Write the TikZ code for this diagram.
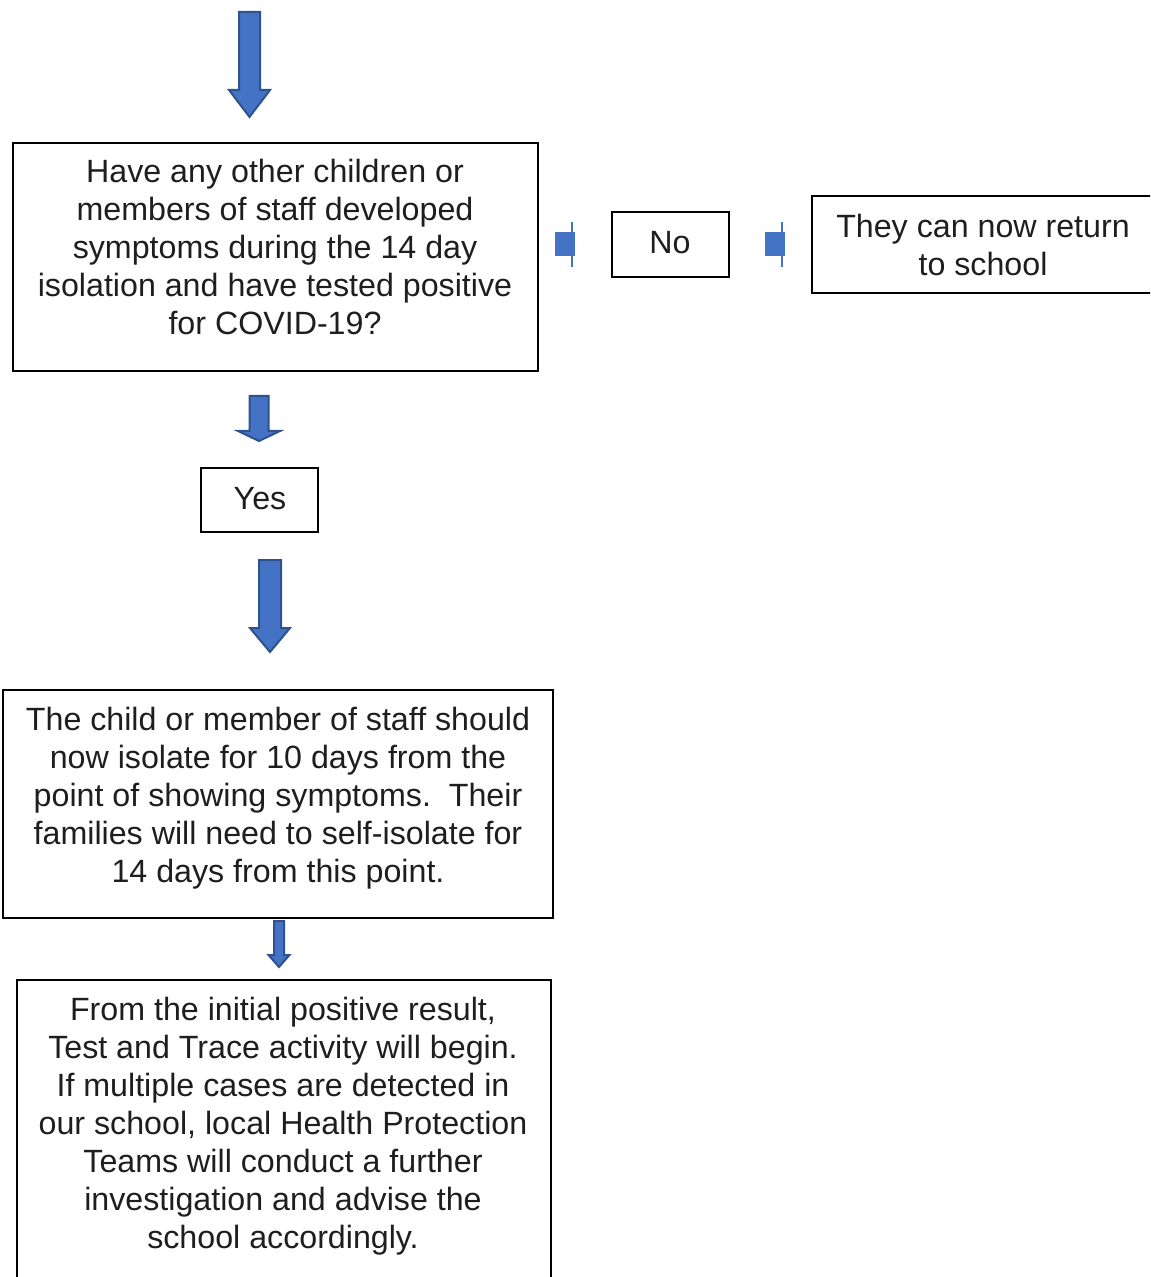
\documentclass[tikz,border=0pt]{standalone}
\usepackage{fontspec}
\setmainfont{Liberation Sans}
\usetikzlibrary{fit}
\definecolor{afill}{RGB}{68,114,196}
\definecolor{adraw}{RGB}{47,82,143}
\definecolor{txtc}{RGB}{30,30,30}
\tikzset{
  box/.style={draw=black, line width=1pt, inner sep=0pt},
  txt/.style={text=txtc, font=\fontsize{16.1pt}{19pt}\selectfont, align=center, inner sep=0pt, anchor=north},
  blockarrow/.style={fill=afill, draw=adraw, line width=1pt, line join=miter},
  sidemark/.style={fill=afill, draw=none},
  sideline/.style={draw=afill, line width=1pt},
}
\newcommand\dnarrow[6]{%
  \draw[blockarrow] ({#1-#2},#4) -- ({#1+#2},#4) -- ({#1+#2},#5) -- ({#1+#3},#5)
    -- (#1,#6) -- ({#1-#3},#5) -- ({#1-#2},#5) -- cycle;}
\begin{document}
\begin{tikzpicture}[x=0.5pt,y=-0.5pt]
\useasboundingbox (0,0) rectangle (1150,1277);
\clip (0,0) rectangle (1150,1277);
% boxes
\node[box, fit={(13,143) (538,371)}] (q) {};
\node[box, fit={(612,212) (729,277)}] (no) {};
\node[box, fit={(812,196) (1165,293)}] (ret) {};
\node[box, fit={(201,468) (318,532)}] (yes) {};
\node[box, fit={(3,690) (553,918)}] (iso) {};
\node[box, fit={(17,980) (551,1295)}] (tt) {};
% texts
\node[txt] (tq) at (275,159) {Have any other children or\\members of staff developed\\symptoms during the 14 day\\isolation and have tested positive\\for COVID-19?};
\node[txt] (tno) at (670,231) {No};
\node[txt] (tret) at (983,214) {They can now return\\to school};
\node[txt] (tyes) at (260,487) {Yes};
\node[txt] (tiso) at (278,707) {The child or member of staff should\\now isolate for 10 days from the\\point of showing symptoms.\ \ Their\\families will need to self-isolate for\\14 days from this point.};
\node[txt] (ttt) at (283,997) {From the initial positive result,\\Test and Trace activity will begin.\\If multiple cases are detected in\\our school, local Health Protection\\Teams will conduct a further\\investigation and advise the\\school accordingly.};
% block arrows
\dnarrow{249.5}{10.5}{20.5}{12}{90}{117}
\dnarrow{259}{9.5}{21}{396}{431}{441}
\dnarrow{270}{11}{20}{560}{628}{652}
\dnarrow{279}{5}{10.5}{921}{955}{967}
% collapsed side arrows
\fill[sidemark] (555,232) rectangle (575,256);
\draw[sideline] (572,222) -- (572,267);
\fill[sidemark] (765,232) rectangle (785,256);
\draw[sideline] (782,222) -- (782,267);
\end{tikzpicture}
\end{document}
